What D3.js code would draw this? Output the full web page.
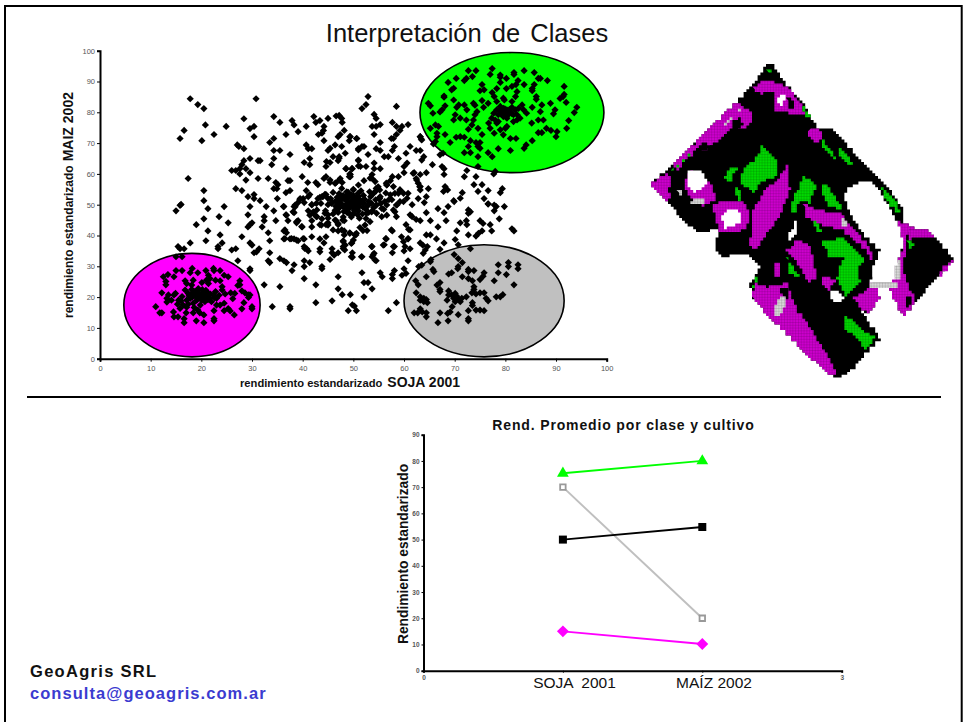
<!DOCTYPE html>
<html>
<head>
  <meta charset="utf-8" />
  <title>Interpretación de Clases</title>
  <script src="https://d3js.org/d3.v7.min.js"></script>
  <style>
    body { margin: 0; background: #fff; }
    svg { display: block; font-family: "Liberation Sans", Arial, sans-serif; }
    .tick-small { fill: #555; font-size: 7.5px; }
    .tick-tiny { fill: #555; font-size: 6.5px; font-weight: bold; }
    .bold { font-weight: bold; fill: #111; }
  </style>
</head>
<body>
<svg width="963" height="722"></svg>
<script>
  // scatter, rendimiento estandarizado [soja 2001, maiz 2002]
  const claseVerde = [
    [72.7,93.5],[74.2,93.5],[77.4,94.2],[77,92.3],[79,92.1],[79,91.4],[81.7,92.9],[81.7,92.3],[83.7,93.5],[85.7,92.9],
    [86.9,91],[86.5,91],[88.3,90.3],[73.5,91.6],[72.3,91],[71.9,90.3],[70.3,91],[68.7,89.7],[80.2,91],[79,89.7],
    [82.5,90.3],[82.1,89],[81.3,88.4],[83.7,89],[85.7,89],[85.3,87.7],[85.3,87],[75.4,89],[75.8,87.3],[75,87],
    [80.2,87.7],[78.3,87.7],[69.8,87.8],[69.4,87.3],[91.6,88.4],[67.9,85.3],[67.9,84.9],[91.6,85.8],[90.8,84.5],[91.4,85.1],
    [92,83.2],[77.4,86.4],[77.8,85.1],[78.3,83.5],[79.6,84.6],[79.8,84],[82.3,86.7],[82,85.1],[81.3,83.5],[86.1,85.1],
    [86.1,84.2],[88.9,82.9],[69.8,84],[64.8,82.9],[65.2,82.1],[68.1,82.1],[67.5,80.8],[70.8,82.4],[70.4,81.6],[71.9,82.4],
    [72.4,80.8],[73.7,82.9],[74,82.3],[75.4,83.8],[75.7,81.6],[76.6,82.9],[65.7,79.7],[67.1,80.1],[70.1,79.2],[71.1,78.1],
    [69.8,77.5],[72.3,77.5],[74.4,80.2],[74,79.2],[73.7,77.5],[73.4,75.9],[72.7,74.5],[65.2,74.8],[66.2,75.9],[66.8,75.4],
    [66.5,73.2],[66.5,72.1],[66.2,70.5],[65.8,69.7],[68.1,72.8],[70.3,71.9],[71.1,72.1],[71.9,71.9],[73.1,70.8],[75.4,72.8],
    [74.6,74.8],[69.1,70.2],[74.2,70.2],[75,70.2],[72.7,68.9],[74.6,68.9],[75,68.3],[71.9,66.9],[73.1,66.9],[74.6,65.6],
    [76.6,66.9],[77.4,65.6],[78.6,68.2],[81,67.6],[83.7,68.3],[84.1,69.4],[85.3,70.8],[81,71.5],[82.1,71.5],[79.6,72.7],
    [77.8,73.2],[79,74.3],[76.7,76.5],[77,74.8],[78.3,76.5],[80.3,75.4],[80,74.8],[82.3,77.5],[81.6,77],[82.9,78.1],
    [83.6,80.8],[84.2,79.7],[85.3,81.6],[87.2,82.4],[86.9,80.2],[86.5,77.5],[87.5,77.5],[89.8,80.8],[89.5,79.5],[94.1,81.6],
    [93.6,79.9],[92.5,77.3],[92.1,74.8],[90.2,73.7],[90,72.1],[88.1,74.8],[89,74.1],[86.5,73.4],[87.2,73.4],[85.2,76.5],
    [79,81.9],[79.6,81.3],[80.3,80.8],[81,80.2],[80,79.7],[80.6,79.2],[79.3,80.2],[78.3,80.8],[81.3,81.6],[82,80.8],
    [81.6,79.2],[80.3,78.1],[79.6,78.6],[78.6,79.2],[77.7,79.7],[77.3,78.1],[78,77.5],[78.6,77],[82.6,81.3],[83.3,82.4],
    [82.3,79.2],[80.8,80.9],[79.9,81.1],[80.5,79.9],[81.3,79.6],[79.2,79.4],[78.9,80.6],[67.7,66.7],[67.1,66.2],[78,60.8],
    [77.7,60],[74.6,62.4],[72.4,61.1],[71.9,59.1],[74.2,59.1],[63.2,72.1],[63.4,71.3]
  ];

  const claseMagenta = [
    [11,16.9],[11.8,14.9],[12.2,14.9],[12.2,21.4],[12.5,26.6],[13,25.1],[13,24],[13.4,27.3],[14.6,26.6],[15,28.6],
    [16.2,28.6],[15,33.1],[16.2,33.1],[17.8,27.9],[18.2,29.3],[19.3,27.9],[20.9,28.6],[21.4,27.1],[22.4,29.3],[22.5,28.6],
    [23.7,28.6],[24.5,27.1],[25.3,26.6],[21.7,26],[22.8,25.5],[23.7,25.3],[27.6,25.3],[27.6,24],[27.2,23.8],[16.8,25.3],
    [17.1,24.4],[18.4,25.5],[18.1,23.9],[20.1,24.7],[21,25.5],[21.4,24.4],[14.9,21.2],[14.6,20.7],[13.5,20.7],[13.2,19.6],
    [13.2,18.4],[14.1,19],[15.5,19],[15.3,17.7],[15.8,16.3],[16.4,17.4],[17.4,17.7],[17.1,16.7],[17,14.9],[18.4,14.9],
    [19.3,15.8],[19.7,14.9],[20.5,14.2],[14.5,15.2],[14.6,13.6],[15.4,13.6],[16.6,13],[16.6,11.7],[19,12.3],[20.5,11.7],
    [22.5,13],[22.5,12.3],[22.5,15.6],[24.5,15.6],[25.3,16.3],[25.7,15.5],[26.5,14.2],[28,16.2],[30,16.9],[30,16.2],
    [28.4,18.2],[26.2,19.5],[26.6,21.2],[25.8,21.4],[28,22],[28.6,21.4],[29.3,20.7],[29.6,20.7],[29.3,19.9],[24.1,23.4],
    [24.1,22.3],[24.7,21],[23,17.4],[23.7,17.4],[24.5,18],[16.8,22.3],[17.4,21.2],[18.1,22.5],[18.7,20.7],[19.4,22.3],
    [19.7,20.1],[20.4,21.7],[21,20.7],[21.7,19.6],[22.4,20.7],[23,19.6],[19.1,19],[18.4,18],[17.8,19.6],[20.1,19],
    [20.7,18.5],[21.4,21.2],[22,18.5],[17.1,19],[19.4,22.8],[19,21.6],[20,20.7],[20.9,22.2],[18.2,20],[21.3,19.2],
    [22.8,21.8],[23.5,20.6],[16.2,20.2],[16,18.8],[19.8,17.4],[18.6,16.6],[18.6,21.8],[19.6,21],[20.6,20],[21.8,21],
    [20.2,22.4],[18,21],[22.6,19.8],[19,20],[20.8,19.4],[17.6,20.4],[21.2,20],[19.8,19.6]
  ];

  const claseGris = [
    [69.9,33.8],[70.7,32.5],[71.5,31.2],[70.7,29.9],[70.6,29.2],[72.7,29],[73.8,28.6],[72.7,28.3],[75.8,27.9],[75.6,26.8],
    [75,25.7],[78.6,30.5],[80.6,31.2],[80.6,29.9],[82.5,30.5],[82.5,29.2],[78.6,27.9],[80.2,27.3],[77.8,25.3],[81.7,24],
    [65.7,29],[65.9,28.3],[64.4,26.6],[68.8,27.5],[69.4,27.9],[71.5,26.6],[72.7,26],[73.5,25.3],[62.3,25.3],[62.8,24],
    [67.1,24.7],[66.5,23.9],[67.1,22.5],[67.1,21.8],[73.8,23.4],[73.8,22.5],[62.4,21.4],[63.2,20.1],[63.2,19],[63.9,19.6],
    [63.9,18.5],[64.6,18.2],[64.4,19.2],[68.8,22],[68.8,20.7],[68.5,19],[69.4,20.7],[70.1,21.2],[70.4,20.3],[69.8,19.6],
    [70.8,19.2],[71.1,18.5],[70.1,18.5],[71.4,19.6],[72.3,20.1],[73.4,21.4],[74.2,21],[75,21.4],[75.8,21.4],[76.2,19.6],
    [76.6,18.8],[78.2,20.1],[79,20.1],[79.5,20.8],[73.5,18.2],[73.5,17.3],[69.5,16.9],[69.1,15.2],[68.6,14.7],[72.7,15.6],
    [74.2,15.8],[75,15.8],[75.8,15.6],[63.2,16.2],[62,14.9],[62.7,14.9],[64.4,14.9],[64.4,13.6],[63.6,15.2],[67.1,14.9],
    [70.7,14.3],[72.7,13],[72.7,12.3],[68.7,12.3],[66.7,11.7]
  ];

  const claseNegra = [
    // upper left
    [17.8,84.4],[19.3,82.5],[20.5,81.2],[30.8,84.4],[20.8,75.9],[16.6,74.1],[15.8,71.5],[20.1,70.8],[22.5,72.8],[24.9,75.4],
    [28.4,77.9],[29.6,74.7],[30.4,75.4],[30.4,72.1],[34.3,78.6],[35.5,76.7],[37.9,77.3],[38.3,75.9],[36.7,72.8],[39.1,73.7],
    [40.7,75.4],[42.2,78.6],[42.6,76.7],[43.4,77.3],[45,78],[44.2,75.4],[44.1,74.1],[43.1,72.8],[43.8,73.2],[44.2,70.8],
    [46.6,78.8],[47.2,79],[47.7,78],[47.8,76.7],[48.2,74.1],[47.4,72.8],[47,72.1],[49.3,72.1],[49.2,70.8],[50.7,71.5],
    [33.5,70.2],[34.3,71.5],[27.1,69.4],[27.4,68.9],[28.4,68.2],[34.3,67.6],[35.5,67.6],[37.5,66.3],[40.7,69.4],[41.1,68.2],
    [41.8,68.2],[41.4,65],[40.3,63.7],[41.4,63],[34.3,65],[33.9,63],[29.6,65],[31.2,64.3],[31.6,64.3],[28.4,64.3],
    [28,63],[27.6,61.7],[26.8,61.1],[26,61.1],[28.8,61.7],[27.6,60],[29.6,60.4],[36.7,61.7],[28.8,58],[31.2,58.5],
    [33.2,58.5],[17.4,58.5],[37.1,57.8],[37.5,57.8],[39.9,59.1],[41,57.2],[34.7,57.2],[35.1,56.5],[34.3,55.2],[34.9,55.2],
    [42.6,57.2],[43,56.5],[44.6,59.1],[44.2,58.5],[26.8,55.2],[28,54.6],[20.5,54.6],[40.7,54.6],[29.2,52.6],[30.4,53.3],
    [30.4,52],[31.6,51.3],[35,52],[36.7,53.9],[37.5,54.6],[41.1,52.6],[41.4,53.3],[39.5,52],[39.1,50.7],[40.3,50.7],
    [20.5,51.3],[16,50.1],[15.8,49.8],[24.5,49.4],[21.3,48.7],[29.6,49.4],[32.8,49.4],[36.3,49.4],[38.3,49.4],[41.8,50.1],
    [43.8,52.6],[44.6,53.3],[43,52],[45,52],[45.4,57.2],[46.6,57.2],[47.4,58.5],[47.8,57.2],[45,67.6],[45.4,68.3],
    [46.4,69.4],[47.7,68.9],[46,65.6],[47.2,65.6],[48.4,66.7],[44.7,64],[45.4,63.7],[44.6,62.4],[47.2,65.1],[47,64.3],
    [51,67.8],[51,64.5],[51,62.6],[48.5,61.7],[49.7,61.7],[49.3,60],[49.2,59.1],[51,56.4],[50,54.8],
    // upper right
    [52.9,85.1],[52.5,82.5],[51.7,81.2],[58.5,81.9],[54.1,79.3],[54.5,78],[53.7,75.4],[54.5,75.4],[55.3,76],[54.1,72.8],
    [57.7,76.7],[58.5,75.4],[59.6,75.4],[60.8,76],[59.2,74.1],[58.5,72.8],[57.9,71.5],[57.5,71.5],[49.4,72.1],[50.6,71.5],
    [55.3,70.2],[51,68.2],[51.7,68.9],[52.1,68.9],[54.5,68.2],[55.3,67.6],[58.1,68.9],[57.7,67.6],[63.2,72.1],[63.5,71],
    [61.2,68.9],[60.4,66.7],[62.4,67.6],[63.2,67.6],[52.9,66.3],[56.1,65.6],[56.9,65.6],[58.9,65],[63.9,65.6],[63.5,64.5],
    [65.6,63],[67.5,62.4],[67.9,61.7],[67.9,59.8],[64.4,60.4],[60.6,63.5],[60,62.4],[60,60.4],[62,60.4],[63.2,59.8],
    [62.4,58.5],[62.8,57],[63.2,55.9],[63.2,54.8],[54.1,63.5],[55.3,61.7],[54.1,61.7],[51,64.3],[51.4,62.4],[52.5,62.4],
    [48.6,61.7],[49.8,61.7],[49.4,59.8],[49.4,59.1],[52.1,57.8],[53.7,59.8],[53.7,58.5],[57.7,59.1],[58.9,59.1],[57.3,57.8],
    [56.5,57],[73.8,56.5],[75.4,56.5],[74.6,54.3],[76.6,54.6],[79.4,55.2],[79,53.9],[71.5,53.9],[71.1,52.1],[69.8,51.3],
    [68.1,55.9],[67.8,54.3],[68.6,54.8],[75.8,52],[76.6,50.3],[78.2,49.4],[79.8,49.4],[72.7,48.3],[64.8,55.2],[64.4,52.6],
    [62.8,52],[64,50.7],[66.7,48.7],[68.7,49.4],[69.9,51],[59.2,54.8],[59.9,53.7],[60.6,52.1],[59.9,51],[57.3,53.2],
    [55.3,52.6],[54.5,55.3],[54,53.7],[56.6,56.4],[57.9,55.9],[58.6,49.9],[57.6,51.6],
    // lower right
    [76.6,50.2],[77.8,49.9],[77.8,48],[73.1,47.7],[72.7,47.2],[67.9,47.4],[68.3,44.8],[64.4,47.4],[61.6,50],[61.2,46.7],
    [61.6,46.1],[62.4,45.2],[63.2,44.8],[65.2,44.8],[58.5,46.1],[71.1,44.1],[72.3,44.8],[72.4,43.5],[75,44.8],[75.6,43.9],
    [78.8,45.4],[77,43.5],[77.3,41.5],[81.3,42.2],[81.7,41.5],[66.7,42.8],[60.4,43.5],[60.9,42],[61.2,41.8],[57.7,41.5],
    [70.4,41.5],[70.1,38.7],[72.7,40.2],[74.2,39.8],[74.7,40.7],[75.4,41.5],[64.4,40.2],[65.2,40.2],[66.4,38.9],[60.8,38.9],
    [59.9,38],[56.5,38.9],[56.1,37],[67.9,37.6],[70.7,37],[73.1,35.7],[63.2,37.6],[63.7,36.9],[64.6,36.4],[64.2,35.3],
    [63.8,34.2],[61.2,35.7],[60,35],[58.1,36.4],[57.7,34.4],[53.7,36.4],[54.1,34.2],[53.7,33.1],[54.5,31.8],[51.7,33.1],
    [49.8,34.4],[49.8,32.9],[67.1,35.5],[65.3,32.2],[65.2,31.5],[63.5,30.4],[62.9,29.9],[60.8,31.8],[60,29.2],[60.4,27.7],
    [59.6,27.1],[58.1,28.6],[57.7,27.3],[57.7,26],[55.3,27.9],[55.7,26.6],[51.7,27.9],[52.1,24.7],[52.9,24.7],[53.7,22.7],
    [52.1,20.1],[47.8,20.8],[49.4,20.8],[49.8,17.5],[50.2,17.1],[49,15.6],[50.6,15.6],[56.9,15.6],[58.5,18.2],
    // lower left
    [15,48],[19,43.5],[20.5,45.4],[21.3,41.5],[20.9,38.3],[17.8,37.6],[15.4,36.4],[16.6,35.7],[15.8,35.7],[23.7,40.2],
    [24.1,37.6],[23.3,36.4],[23.3,35.7],[23.5,46.1],[25.3,44.1],[26.8,35.7],[26,35.3],[27.2,31.8],[29.6,29.2],[29.6,28.6],
    [28,39.6],[29.2,46.7],[29.6,43.5],[30,44.1],[29.2,42.8],[32.4,46.1],[32.4,44.8],[32,42.8],[34.7,44.8],[34.3,48],
    [33.2,40.9],[33.5,38.3],[29.6,37.6],[30,36.9],[30.4,34.4],[31.4,35.7],[30.9,34.7],[33.5,34.4],[33.2,31.8],[33.5,31.2],
    [35.5,32.5],[36.3,31.8],[36.8,31.2],[38.3,30.5],[37.9,28.6],[40.3,31.8],[40.3,29.9],[41.4,31.2],[43.8,29.9],[43.8,29.2],
    [40.3,26],[32.4,24],[35.5,23.4],[42.6,24],[47,26.6],[47,22.7],[45.8,18.8],[42.6,18.2],[34,16.9],[37.5,16.9],
    [37.5,16.2],[36.3,41.5],[36.3,38.9],[36.8,40.9],[37.5,38.9],[38.3,38.9],[39.1,38.3],[40.3,38.9],[40.3,36.4],[40.8,35.7],
    [41.1,35],[41.8,39.6],[43.4,38.9],[44.2,37.6],[44.6,39.6],[43.4,35.7],[43.4,34.7],[45.8,35.7],[45.8,34.4],[47,34.4],
    [46.2,33.6],[45.4,32.2],[39.9,42.8],[39.1,44.8],[38.8,44.1],[37.1,44.8],[36.7,46.7],[38.3,47.4],[38.5,49.3],[41.8,42.8],
    [41.8,44.8],[43.4,43.5],[44.6,43.5],[45,44.1],[45,46.7],[43.8,45.4],[41.1,48],[42.1,47.2],[42.8,46.1],[42.8,48.3],
    [46.6,44.8],[47,43.5],[47,41.5],[48.2,44.8],[48.2,41.5],[48.2,40.2],[49.3,40.9],[50.5,40.2],[50,38.5],[49.7,37.6],
    [48,38.3],[48.4,36.9],[48,35.8],[49.7,33.1],
    // around the centre
    [45.4,58],[46.4,56.9],[47.3,58],[47.7,55.3],[48.7,54.2],[49.6,53.1],[53.3,58.6],[54.3,57.5],[54.9,55.8],[55.2,54.8],
    [56.6,56.4],[58.2,53.7],[59.2,54.8],[60.8,53.7],[61.8,60.2],[62.5,58],[63.1,55.8],[55.2,52],[56.2,51],[56.6,49.9],
    [55.6,48.8],[54.6,49.9],[53.6,47.7],[54.6,47.2],[55.6,46.1],[56.6,46.6],[57.9,48.3],[58.5,49.9],[59.2,51],[58.2,47.7],
    [58.9,53.7],[53.3,44.5],[52.3,43.4],[51.3,42.6],[51.9,41.6],[52.7,41.6],[45.7,50.4],[46.7,51.5],[44,52.6],[43.4,52.4],
    [42.7,50.4],[41.8,49.9],[42.1,47.7],[41.4,46.6],[42.7,46.1],[44.4,47.2],[45,45.6],[43.7,43.4],[45,43.4],[46.4,45],
    [47,43.9],[47.7,41.8],[46,41.8],[48,38],[48,36.4],[48.3,35.3],[49.6,37.4],[50.3,40.2],[49.3,40.7],[50.6,40.7],
    [39.4,51.5],[40.1,52],[38.5,49.9],[38.1,47.7],[38.8,44.5],[39.8,42.9],[36.8,46.6],[36.2,49.4],[36.5,41.8],[36.5,39],
    [37.8,39],[38.8,38.5],[40.1,39],[40.4,35.8],[57.5,41.8],[59.5,39.6],[60.8,39],[56.4,39],[57.9,36.4],[60.2,36.4],
    [55.9,36.9],[53.6,36.4],[53.9,33.7],[54.3,32],[49.6,33.1],[51.6,33.1],
    // centre
    [50,50],[49.5,51],[51,49.5],[50.5,52],[48.5,50],[52,50.5],[49,48.5],[51,48],[47.5,51.5],[53,51],
    [50,47],[48,53],[52,53],[46.5,49.5],[54,49],[49,54],[51.5,54.5],[47,47.5],[53,47.5],[45.5,52],
    [55,52],[50,55],[48,46],[52.5,45.5],[46,54],[54.5,54.5],[44.5,48],[56,48.5],[50.8,50.6],[49.2,49.4],
    [50.3,49],[49.7,50.2],[51.6,51.2],[48.4,48.8],[47.8,49.6],[52.4,48.6],[50,53],[51,52.8],[49,52.4],[48.2,51.8],
    [53.4,52.6],[46.6,51],[45,50],[55.4,50.4],[47.2,53.6],[53.2,54.2],[44.4,53.4],[43.6,50.4],[57,51.6],[56.4,53.8],
    [46.4,48.2],[47.6,50.4],[48.8,47.4],[49.6,46],[50.8,46.8],[51.8,47],[52.8,49.6],[53.6,50.4],[52.2,51.8],[50.9,53.6],
    [49.6,52.8],[47.8,52.6],[46.8,52.4],[48.6,49.2],[49.4,50.6],[50.6,51.4],[51.4,50.4],[50.2,48],[48.9,51.2],[47.2,48.9],
    [51.9,49.2],[53.8,48],[52.6,47.2],[49.8,49.2],[50.9,49],[48.1,47.8],[47,50.2],[51.1,51.9],[49.9,51.6],[48.6,52.9],
    [54.4,51.6],[53.7,53.4],[46,47],[47.9,45],[51.2,45.6],[49.2,47.2],[52.9,49.9],[45.8,50.9],[50.4,50.4],[49.8,50.8]
  ];

  // ellipses drawn round the classes: [centre soja, centre maiz, half soja, half maiz]
  const elipseVerde = [81.3, 79.9, 18.15, 19.5];
  const elipseMagenta = [18.15, 17.4, 13.45, 16.8];
  const elipseGris = [75.8, 18.8, 15.8, 18.2];

  // promedio por clase y cultivo
  const cultivos = ["SOJA  2001", "MAÍZ 2002"];
  const promedioVerde = [75.3, 80];
  const promedioGris = [70, 20];
  const promedioNegra = [50, 54.8];
  const promedioMagenta = [15, 10.2];

  // field map outlines, in map units. Black is the ground of the map
  const mapaContorno = [[30,400],[100,340],[175,265],[240,200],[290,150],[340,100],[375,45],[395,45],[420,80],[450,120],[490,160],[510,200],[530,235],[575,235],[640,310],[700,370],[750,420],[790,480],[790,520],[820,535],[860,540],[900,580],[942,630],[900,680],[860,720],[830,760],[790,800],[770,760],[750,715],[710,710],[700,720],[720,745],[690,790],[660,780],[720,870],[680,910],[640,960],[600,985],[570,975],[510,920],[450,860],[390,800],[335,740],[330,700],[360,650],[340,620],[300,610],[250,625],[225,590],[235,540],[175,545],[130,510],[80,450]];
  const mapaPurpura = [
    [[440,345],[450,420],[430,480],[395,535],[350,600],[330,580],[340,480],[370,420],[420,380]],
    [[30,400],[75,370],[95,385],[85,430],[100,440],[80,450]],
    [[100,340],[240,200],[290,150],[300,170],[340,190],[330,230],[270,240],[240,270],[200,300],[175,300],[130,340],[110,370]],
    [[340,110],[370,90],[410,100],[440,110],[480,160],[495,195],[450,190],[400,180],[405,130],[380,130],[350,140]],
    [[335,740],[345,700],[380,710],[440,700],[470,780],[520,850],[570,930],[590,975],[570,975],[510,920],[450,860],[390,800]],
    [[470,570],[510,590],[530,680],[510,700],[470,630],[440,600]],
    [[215,460],[300,450],[330,490],[320,540],[240,550]],
    [[130,400],[150,360],[210,400],[230,450],[190,470],[150,440]],
    [[770,510],[820,535],[800,560],[790,660],[800,700],[820,740],[830,760],[790,800],[770,760],[750,715],[770,640],[790,590]],
    [[490,460],[530,480],[600,490],[640,540],[690,590],[700,640],[680,600],[610,540],[530,520],[500,500]],
    [[800,540],[860,540],[880,560],[840,560],[810,570]],
    [[400,640],[420,640],[420,680],[400,670]],
    [[550,680],[590,690],[570,720],[550,700]],
    [[690,700],[710,710],[720,745],[690,790],[660,770],[640,740],[680,720]],
    [[900,680],[942,630],[925,640],[905,660]],
    [[510,235],[540,240],[550,265],[530,280],[500,250]]
  ];
  // black blobs that break up the purple bands
  const mapaNegro = [
    [[270,215],[300,200],[310,230],[285,250]],
    [[150,310],[190,275],[215,290],[175,320]],
    [[340,130],[365,125],[360,175],[335,170]],
    [[440,140],[470,170],[445,180]],
    [[410,720],[440,710],[450,760],[430,730]],
    [[795,745],[815,735],[820,760],[800,775]]
  ];
  const mapaVerde = [
    [[365,285],[410,335],[412,380],[370,395],[345,425],[300,400],[310,350],[345,330]],
    [[250,380],[275,345],[290,360],[270,400]],
    [[285,400],[300,430],[305,460],[290,440]],
    [[545,265],[590,330],[575,320],[545,285]],
    [[600,290],[640,345],[625,345],[600,310]],
    [[490,380],[530,410],[510,460],[480,450],[470,490],[450,480],[460,440]],
    [[550,400],[580,430],[605,480],[570,470],[550,430]],
    [[545,570],[610,565],[640,600],[680,640],[650,650],[660,700],[620,740],[590,680],[610,620],[570,620]],
    [[615,800],[650,820],[670,850],[710,860],[680,900],[650,860],[610,830]],
    [[720,410],[770,460],[780,490],[740,450]],
    [[800,570],[825,580],[810,600]],
    [[345,680],[360,690],[340,710]],
    [[95,360],[150,310],[120,345]],
    [[380,60],[395,60],[390,75]],
    [[485,165],[510,200],[495,195]],
    [[520,510],[535,520],[545,550],[530,540]],
    [[440,620],[455,650],[475,680],[450,670]]
  ];
  const mapaGris = [
    [[400,770],[430,730],[440,760],[420,800],[400,790]],
    [[240,230],[300,180],[290,195],[240,240]],
    [[700,650],[720,600],[725,640],[700,690]],
    [[600,500],[630,530],[610,530]],
    [[110,420],[130,430],[125,440]],
    [[150,450],[195,445],[190,465],[155,465]],
    [[690,695],[770,695],[775,716],[690,712]],
    [[765,640],[785,610],[785,680],[770,700]]
  ];
  const mapaBlanco = [
    [[610,430],[640,400],[690,395],[720,430],[750,480],[780,540],[790,590],[770,640],[760,700],[690,700],[700,650],[720,600],[680,560],[630,490]],
    [[140,360],[180,360],[205,400],[170,425],[145,410]],
    [[240,500],[270,475],[305,490],[300,520],[260,535]],
    [[440,560],[465,515],[475,520],[465,560],[450,575]],
    [[565,720],[590,720],[615,745],[600,760],[575,745]],
    [[408,150],[425,130],[437,150],[420,170]]
  ];

  const svg = d3.select("svg");
  const defs = svg.append("defs");

  // page frame and separator
  svg.append("path").attr("d", "M5 722V6H961.7V722").attr("fill", "none").attr("stroke", "#000").attr("stroke-width", 2);
  svg.append("line").attr("x1", 27).attr("x2", 941).attr("y1", 397).attr("y2", 397)
    .attr("stroke", "#000").attr("stroke-width", 1.8);

  svg.append("text").attr("x", 467).attr("y", 42).attr("text-anchor", "middle")
    .attr("font-size", 25.5).attr("fill", "#111").style("word-spacing", "3px")
    .text("Interpretación de Clases");

  // --- scatter ---
  const x = d3.scaleLinear().domain([0, 100]).range([100, 606.7]);
  const y = d3.scaleLinear().domain([0, 100]).range([358.7, 50.7]);

  const scatter = svg.append("g");
  [[elipseVerde, "#00ff00"], [elipseMagenta, "#ff00ff"], [elipseGris, "#c0c0c0"]].forEach(([e, col]) => {
    scatter.append("ellipse")
      .attr("cx", x(e[0])).attr("cy", y(e[1]))
      .attr("rx", x(e[2]) - x(0)).attr("ry", y(0) - y(e[3]))
      .attr("fill", col).attr("stroke", "#000").attr("stroke-width", 1.6);
  });

  const diamante = d3.symbol().type(d3.symbolDiamond2).size(33);
  scatter.selectAll("path.pt")
    .data([...claseNegra, ...claseVerde, ...claseMagenta, ...claseGris])
    .enter().append("path")
    .attr("class", "pt")
    .attr("d", diamante)
    .attr("fill", "#000")
    .attr("transform", d => `translate(${x(d[0])},${y(d[1])})`);

  const xAxis = svg.append("g").attr("transform", "translate(0,358.7)")
    .call(d3.axisBottom(x).ticks(10).tickSize(3).tickPadding(4));
  const yAxis = svg.append("g").attr("transform", "translate(100,0)")
    .call(d3.axisLeft(y).ticks(10).tickSize(3).tickPadding(2));
  [xAxis, yAxis].forEach(a => {
    a.selectAll(".domain").attr("stroke-width", 2);
    a.selectAll(".tick text").attr("class", "tick-small").attr("font-family", null);
    a.selectAll(".tick line").attr("stroke-width", 1);
  });

  const xLab = svg.append("text").attr("x", 240).attr("y", 387).attr("class", "bold");
  xLab.append("tspan").attr("font-size", 11.2).text("rendimiento estandarizado");
  xLab.append("tspan").attr("dx", 5).attr("font-size", 14).text("SOJA 2001");

  const yLab = svg.append("text").attr("transform", "translate(73,318) rotate(-90)").attr("class", "bold");
  yLab.append("tspan").attr("font-size", 12).text("rendimiento estandarizado");
  yLab.append("tspan").attr("dx", 4).attr("font-size", 14).text("MAIZ 2002");

  // --- field map ---
  const mapX = d3.scaleLinear().domain([0, 960]).range([640, 960]);
  const mapY = d3.scaleLinear().domain([0, 1020]).range([50, 390]);
  const CELDA = 8.4; // one raster cell, in map units

  // walk the outline and snap it to the raster cells, so edges come out stepped
  function escalera(poly) {
    const snap = v => Math.round(v / CELDA) * CELDA;
    let d = "";
    poly.forEach((a, i) => {
      const b = poly[(i + 1) % poly.length];
      const n = Math.ceil(Math.hypot(b[0] - a[0], b[1] - a[1]) / CELDA);
      for (let k = 0; k < n; k++) {
        const px = mapX(snap(a[0] + (b[0] - a[0]) * k / n));
        const py = mapY(snap(a[1] + (b[1] - a[1]) * k / n));
        d += (d ? `H${px}V${py}` : `M${px} ${py}`);
      }
    });
    return d + "Z";
  }

  // the raster cells of the map show as a fine grid over the colours
  function rejilla(id, color, linea) {
    const p = defs.append("pattern").attr("id", id).attr("patternUnits", "userSpaceOnUse")
      .attr("width", 2.8).attr("height", 2.8);
    p.append("rect").attr("width", 2.8).attr("height", 2.8).attr("fill", color);
    p.append("path").attr("d", "M0 0H2.8M0 0V2.8").attr("stroke", linea).attr("stroke-width", 0.5);
  }
  rejilla("celdaPurpura", "#cc00cc", "#6a006a");
  rejilla("celdaVerde", "#00d800", "#006a00");
  rejilla("celdaGris", "#d8d8d8", "#777");

  defs.append("filter").attr("id", "borroso")
    .append("feGaussianBlur").attr("stdDeviation", 0.5);

  const mapa = svg.append("g").attr("filter", "url(#borroso)");
  const capa = (polys, fill) => mapa.append("g").selectAll("path").data(polys).enter().append("path")
    .attr("d", escalera).attr("fill", fill);
  capa([mapaContorno], "#000");
  capa(mapaPurpura, "url(#celdaPurpura)");
  capa(mapaNegro, "#000");
  capa(mapaVerde, "url(#celdaVerde)");
  capa(mapaGris, "url(#celdaGris)");
  capa(mapaBlanco, "#fff");

  // --- class means ---
  const x2 = d3.scaleLinear().domain([0, 3]).range([423.5, 841.7]);
  const y2 = d3.scaleLinear().domain([0, 90]).range([670.7, 434.7]);
  const linea2 = d3.line().x((d, i) => x2(i + 1)).y(d => y2(d));

  svg.append("text").attr("x", 623.5).attr("y", 430).attr("text-anchor", "middle")
    .attr("class", "bold").attr("font-size", 14).style("letter-spacing", "0.85px")
    .text("Rend. Promedio por clase y cultivo");

  const xAxis2 = svg.append("g").attr("transform", "translate(0,670.7)")
    .call(d3.axisBottom(x2).tickValues([0, 1, 2, 3]).tickSize(2).tickPadding(3).tickFormat(d => (d === 0 || d === 3) ? d : ""));
  const yAxis2 = svg.append("g").attr("transform", "translate(423.5,0)")
    .call(d3.axisLeft(y2).ticks(9).tickSize(2).tickPadding(2));
  [xAxis2, yAxis2].forEach(a => {
    a.selectAll(".domain").attr("stroke-width", 2);
    a.selectAll(".tick text").attr("class", "tick-tiny").attr("font-family", null);
  });

  svg.selectAll("text.cultivo").data(cultivos).enter().append("text")
    .attr("class", "cultivo")
    .attr("x", (d, i) => [574.5, 714][i]).attr("y", 688)
    .attr("text-anchor", "middle").attr("font-size", 15.5).attr("fill", "#111")
    .style("white-space", "pre").text(d => d);

  svg.append("text").attr("transform", "translate(407.5,554) rotate(-90)")
    .attr("text-anchor", "middle").attr("class", "bold").attr("font-size", 13.8)
    .text("Rendimiento estandarizado");

  const series2 = [
    [promedioVerde, "#00ff00"], [promedioGris, "#bfbfbf"],
    [promedioNegra, "#000"], [promedioMagenta, "#ff00ff"]
  ];
  series2.forEach(([vals, col]) => {
    svg.append("path").attr("d", linea2(vals)).attr("fill", "none").attr("stroke", col).attr("stroke-width", 1.9);
  });
  const simbolo = (tipo, size, vals, fill, stroke) => {
    svg.append("g").selectAll("path").data(vals).enter().append("path")
      .attr("d", d3.symbol().type(tipo).size(size))
      .attr("transform", (d, i) => `translate(${x2(i + 1)},${y2(d)})`)
      .attr("fill", fill).attr("stroke", stroke).attr("stroke-width", stroke === "none" ? 0 : 1.8);
  };
  simbolo(d3.symbolTriangle, 60, promedioVerde, "#00ff00", "none");
  simbolo(d3.symbolSquare, 30, promedioGris, "#fff", "#999");
  simbolo(d3.symbolSquare, 64, promedioNegra, "#000", "none");
  simbolo(d3.symbolDiamond2, 90, promedioMagenta, "#ff00ff", "none");

  // footer
  svg.append("text").attr("x", 30).attr("y", 676.5).attr("font-size", 16.5).attr("font-weight", "bold")
    .attr("fill", "#111").style("letter-spacing", "1.3px").text("GeoAgris SRL");
  svg.append("text").attr("x", 30).attr("y", 699).attr("font-size", 16.5).attr("font-weight", "bold")
    .attr("fill", "#3b3bd0").style("letter-spacing", "1.05px").text("consulta@geoagris.com.ar");
</script>
</body>
</html>
